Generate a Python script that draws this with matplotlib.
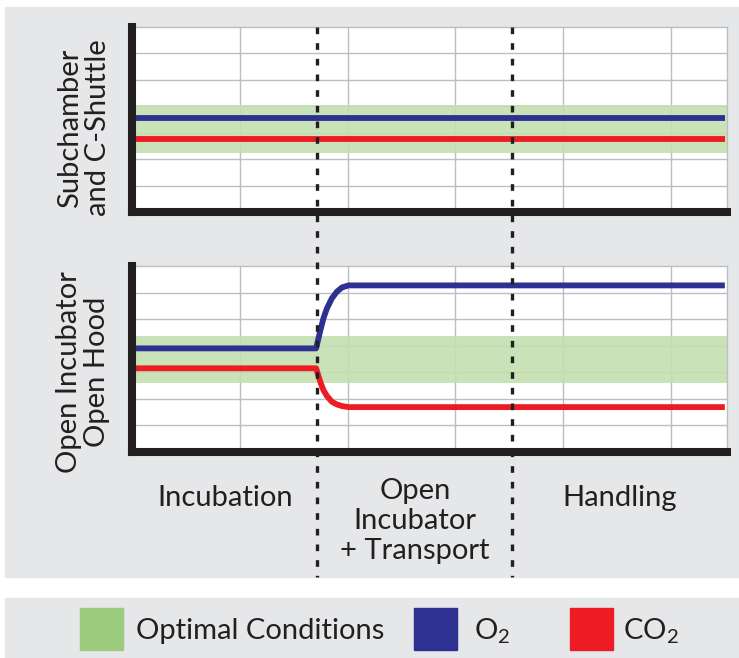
import matplotlib.pyplot as plt
from matplotlib.patches import Rectangle
from matplotlib.lines import Line2D
from matplotlib.transforms import blended_transform_factory

# Schematic gas levels (arbitrary units, 0-7)
x_max = 5.52
phase_bounds = [1.72, 3.53]
phase_labels = ["Incubation", "Open\nIncubator\n+ Transport", "Handling"]
phase_centers = [0.86, 2.625, 4.52]

# top panel: subchamber, everything stays in the optimal band
top_band = [2.23, 4.05]
top_x = [0, 5.5]
top_o2 = [3.55, 3.55]
top_co2 = [2.76, 2.76]

# bottom panel: open incubator, levels drift after opening
bot_band = [2.60, 4.37]
bot_x = [0, 1.708, 1.730, 1.752, 1.776, 1.808, 1.854, 1.900, 1.947, 2.008, 5.5]
bot_o2 = [3.90, 3.90, 4.28, 4.65, 5.03, 5.40, 5.78, 6.03, 6.19, 6.27, 6.27]
bot_co2 = [3.15, 3.15, 2.86, 2.58, 2.33, 2.11, 1.89, 1.79, 1.73, 1.69, 1.69]

row_labels = ["Subchamber\nand C-Shuttle", "Open Incubator\nOpen Hood"]
legend_labels = ["Optimal Conditions", "O$_\\mathregular{2}$", "CO$_\\mathregular{2}$"]

BG = "#e6e7e8"
BAND = "#c5dfb0"
GREEN = "#9dcb7e"
BLUE = "#2e3192"
RED = "#ed1c24"
INK = "#231f20"
GRID = "#bcbec0"

plt.rcParams["font.family"] = ["Lato", "DejaVu Sans"]
FS = 21

W, H = 739, 658
fig = plt.figure(figsize=(W / 100, H / 100), dpi=100, facecolor="white")

# gray background panels
fig.add_artist(Rectangle((5 / W, 1 - 577 / H), 734 / W, 570 / H,
                         transform=fig.transFigure, color=BG, zorder=0))
fig.add_artist(Rectangle((5 / W, 0), 734 / W, 60 / H,
                         transform=fig.transFigure, color=BG, zorder=0))

ax1 = fig.add_axes([132 / W, 1 - 212 / H, 595 / W, 185 / H])
ax2 = fig.add_axes([132 / W, 1 - 452 / H, 595 / W, 186 / H])

panels = [(ax1, top_band, top_x, top_o2, top_co2),
          (ax2, bot_band, bot_x, bot_o2, bot_co2)]
for ax, band, xs, o2, co2 in panels:
    ax.set_facecolor("white")
    ax.set_xlim(0, x_max)
    ax.set_ylim(0, 7)
    ax.set_xticks([1, 2, 3, 4, 5])
    ax.set_yticks([1, 2, 3, 4, 5, 6])
    ax.grid(True, color=GRID, linewidth=1.0)
    ax.set_axisbelow(True)
    ax.tick_params(length=0, labelleft=False, labelbottom=False)
    ax.axhspan(band[0], band[1], color=BAND, alpha=0.9, lw=0, zorder=1)
    ax.plot(xs, o2, color=BLUE, lw=4.2, solid_capstyle="butt", zorder=3)
    ax.plot(xs, co2, color=RED, lw=4.2, solid_capstyle="butt", zorder=3)
    for side in ["top", "right"]:
        ax.spines[side].set_color(GRID)
        ax.spines[side].set_linewidth(1.0)
    for side in ["left", "bottom"]:
        ax.spines[side].set_color(INK)
        ax.spines[side].set_linewidth(5.8)
        ax.spines[side].set_capstyle("projecting")
        ax.spines[side].set_zorder(4)

# dashed phase boundaries running across both panels
trans = blended_transform_factory(ax2.transData, fig.transFigure)
for xb in phase_bounds:
    fig.add_artist(Line2D([xb, xb], [1 - 27 / H, 1 - 577 / H], transform=trans,
                          color=INK, lw=2.4, dashes=(2.0, 2.7), zorder=5))

# phase names under the lower panel
ys = [498, 521, 498]
for xc, lab, yp in zip(phase_centers, phase_labels, ys):
    fig.text(xc, 1 - yp / H, lab, transform=trans, ha="center", va="center",
             fontsize=FS, color=INK, linespacing=1.18, multialignment="center")

# row labels
fig.text(84 / W, 1 - 128 / H, row_labels[0], rotation=90, ha="center", va="center",
         fontsize=FS, color=INK, linespacing=1.1, multialignment="center")
fig.text(83 / W, 1 - 372 / H, row_labels[1], rotation=90, ha="center", va="center",
         fontsize=FS, color=INK, linespacing=1.1, multialignment="center")

# legend strip
legend_colors = [GREEN, BLUE, RED]
patch_x = [80, 414, 570]
text_x = [136, 474, 623]
for px, tx, col, lab in zip(patch_x, text_x, legend_colors, legend_labels):
    fig.add_artist(Rectangle((px / W, 1 - 650 / H), 43 / W, 42 / H,
                             transform=fig.transFigure, color=col, zorder=2))
    fig.text(tx / W, 1 - 631 / H, lab, ha="left", va="center", fontsize=FS, color=INK)

fig.savefig("out.png", dpi=100, facecolor="white")
